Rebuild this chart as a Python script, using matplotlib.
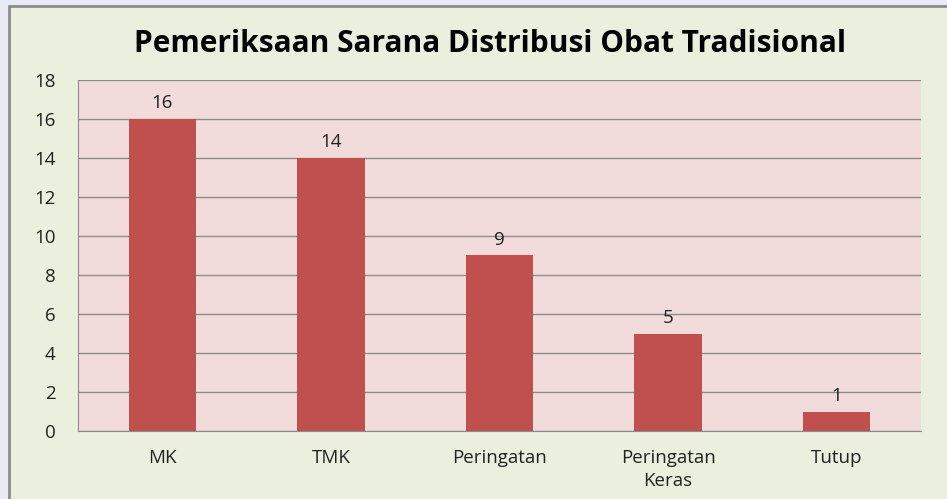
import matplotlib.pyplot as plt
from matplotlib.patches import Rectangle

kategori = ['MK', 'TMK', 'Peringatan', 'Peringatan\nKeras', 'Tutup']
jumlah = [16, 14, 9, 5, 1]
yticks = [0, 2, 4, 6, 8, 10, 12, 14, 16, 18]

plt.rcParams['font.family'] = ['Open Sans', 'DejaVu Sans']

fig = plt.figure(figsize=(9.47, 4.99), dpi=100, facecolor='#E8EAF4')

# bingkai grafik
fig.patches.append(Rectangle((9 / 947, -0.01), 1, 1 - 6 / 499 + 0.01,
                             transform=fig.transFigure, facecolor='#EBF0DE',
                             edgecolor='#8C8C8C', linewidth=2, zorder=-5))

ax = fig.add_axes([78 / 947, 1 - 431 / 499, 843 / 947, 351 / 499])
ax.set_facecolor('#F2DCDB')

x = range(len(kategori))
ax.bar(x, jumlah, width=0.4, color='#C0504D', zorder=3)
for i, v in zip(x, jumlah):
    ax.annotate(str(v), (i, v), xytext=(0, 5), textcoords='offset points',
                ha='center', va='bottom', fontsize=13.5, color='#222222', zorder=4)

ax.set_xlim(-0.5, len(kategori) - 0.5)
ax.set_ylim(0, 18)
ax.set_yticks(yticks)
ax.set_xticks(list(x))
ax.set_xticklabels(kategori, fontsize=13.5, color='#222222', linespacing=1.35)
ax.tick_params(axis='y', labelsize=13.5, labelcolor='#222222', length=0, pad=16)
ax.tick_params(axis='x', length=0, pad=13)
ax.grid(axis='y', color='#8C8C8C', linewidth=1, zorder=1)

for s in ['top', 'right']:
    ax.spines[s].set_visible(False)
ax.spines['left'].set_color('#8C8C8C')
ax.spines['bottom'].set_color('#8C8C8C')

fig.text(490 / 947, 1 - 44 / 499, 'Pemeriksaan Sarana Distribusi Obat Tradisional',
         ha='center', va='center', fontsize=21.5, fontweight='bold', color='black')

fig.savefig('out.png', dpi=100, facecolor=fig.get_facecolor())
